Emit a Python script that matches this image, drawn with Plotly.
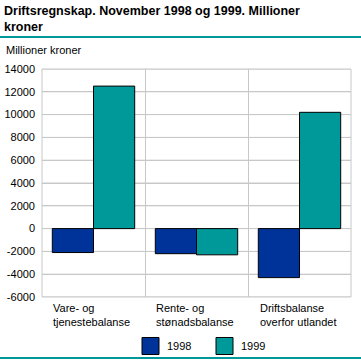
import plotly.graph_objects as go

categories = ["Vare- og<br>tjenestebalanse", "Rente- og<br>stønadsbalanse", "Driftsbalanse<br>overfor utlandet"]
series_names = ["1998", "1999"]
values_1998 = [-2100, -2200, -4300]
values_1999 = [12500, -2300, 10200]
colors = ["#003399", "#009999"]
tick_vals = list(range(-6000, 14001, 2000))
tick_text = [str(v) for v in tick_vals]

FONT = "Liberation Sans, Arial, sans-serif"
x_idx = [0, 1, 2]
PW, PH = 309, 228  # plot area size in px
GRID = "#c8c8c8"

fig = go.Figure()
for name, vals, col in zip(series_names, [values_1998, values_1999], colors):
    fig.add_trace(go.Bar(x=x_idx, y=vals, name=name, marker=dict(color=col, line=dict(color="black", width=1)),
                         showlegend=False))

fig.update_layout(
    width=361, height=361,
    margin=dict(l=42, r=10, t=69, b=64, autoexpand=False),
    paper_bgcolor="white", plot_bgcolor="white",
    barmode="group", bargap=0.2, bargroupgap=0,
    font=dict(family=FONT, size=11, color="black"),
    xaxis=dict(range=[-0.5, 2.5], tickvals=[-0.5, 0.5, 1.5, 2.5], showticklabels=False,
               showgrid=True, gridcolor=GRID, gridwidth=1, zeroline=False,
               showline=False, fixedrange=True, automargin=False),
    yaxis=dict(range=[-6000, 14000], tickmode="array", tickvals=tick_vals, ticktext=tick_text,
               showgrid=True, gridcolor=GRID, gridwidth=1,
               zeroline=False, showline=False, ticks="", ticklabelstandoff=6, fixedrange=True,
               automargin=False, tickfont=dict(family=FONT, size=11)),
)

# horizontal gridlines (drawn under the bars)
for v in tick_vals:
    fig.add_shape(type="line", xref="paper", yref="y", x0=0, x1=1, y0=v, y1=v,
                  line=dict(color=GRID, width=1), layer="below")

# frame around plot area
fig.add_shape(type="rect", xref="paper", yref="paper", x0=0, x1=1, y0=0, y1=1,
              line=dict(color=GRID, width=1), layer="below")

# category labels
for i, c in enumerate(categories):
    fig.add_annotation(x=i, y=0, xref="x", yref="paper", yanchor="top", yshift=-3, xshift=-2,
                       text=c, showarrow=False, align="left",
                       font=dict(family=FONT, size=11, color="black"))

# title
fig.add_annotation(x=-40 / PW, y=1.0, xref="paper", yref="paper", xanchor="left", yanchor="top",
                   text="<b>Driftsregnskap. November 1998 og 1999. Millioner<br>kroner</b>",
                   showarrow=False, align="left", yshift=69 - 2,
                   font=dict(family=FONT, size=12.5, color="black"))
# unit label
fig.add_annotation(x=-38 / PW, y=1.0, xref="paper", yref="paper", xanchor="left", yanchor="middle",
                   text="Millioner kroner", showarrow=False, yshift=69 - 50,
                   font=dict(family=FONT, size=11, color="black"))

# teal lines
ytop = 1 + (69 - 37) / PH
fig.add_shape(type="line", xref="paper", yref="paper", x0=-42 / PW, x1=(PW + 10) / PW, y0=ytop, y1=ytop,
              line=dict(color="#009999", width=2))
ybot = -(358 - 297) / PH
fig.add_shape(type="line", xref="paper", yref="paper", x0=-42 / PW, x1=(PW + 10) / PW,
              y0=ybot, y1=ybot, line=dict(color="#009999", width=2))

# legend
ly = -(346 - 297) / PH
for name, col, x0 in zip(series_names, colors, [142, 216]):
    px0 = (x0 - 42) / PW
    px1 = (x0 + 17 - 42) / PW
    fig.add_shape(type="rect", xref="paper", yref="paper", x0=px0, x1=px1,
                  y0=ly - 8.5 / PH, y1=ly + 8.5 / PH, fillcolor=col, line=dict(color="black", width=1))
    fig.add_annotation(x=(x0 + 23 - 42) / PW, y=ly, xref="paper", yref="paper", xanchor="left", yanchor="middle",
                       text=name, showarrow=False, font=dict(family=FONT, size=11, color="black"))

fig.write_html("out.html")
